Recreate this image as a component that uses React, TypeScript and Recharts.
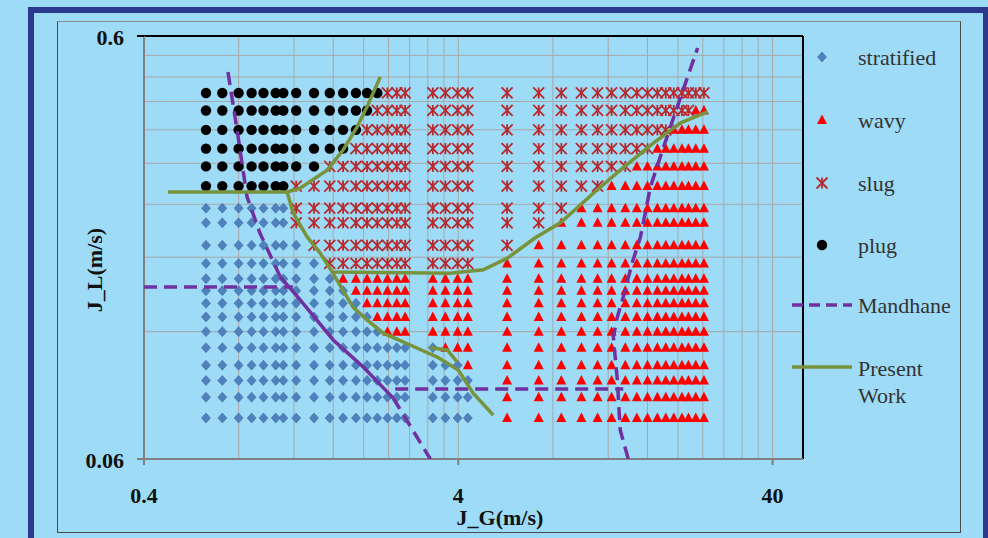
import React from 'react';
import { ScatterChart, Scatter, XAxis, YAxis, CartesianGrid, ReferenceLine } from 'recharts';

// ---------- data ----------
// gas superficial velocity of each measurement column (m/s)
const jgColumns = [
  0.63, 0.71, 0.8, 0.88, 0.96, 1.05, 1.11, 1.22, 1.39, 1.56, 1.72, 1.89, 2.05, 2.21, 2.38, 2.55, 2.71,
  3.32, 3.64, 3.98, 4.29,
  5.72, 7.21, 8.51, 9.86, 11.1, 12.3, 13.6, 14.8, 16.0, 17.2, 18.3, 19.4, 20.6, 21.6, 22.8, 24.2,
];
// liquid superficial velocity of each measurement row (m/s), top to bottom
const jlRows = [0.44, 0.4, 0.36, 0.325, 0.295, 0.265, 0.235, 0.217, 0.192, 0.174, 0.16, 0.15, 0.14, 0.13, 0.12, 0.11, 0.1, 0.092, 0.084, 0.075];
// observed regime along each row, run-length coded across the columns
// p = plug, g = slug, s = stratified, w = wavy
const regimeRuns = [
  'p14 g3 g4 g16',
  'p13 g4 g4 g14 w2',
  'p12 g5 g4 g11 w5',
  'p11 g6 g4 g9 w7',
  'p9 g8 g4 g7 w9',
  'p7 g10 g4 g5 w11',
  's7 g10 g4 g3 w13',
  's7 g10 g4 g2 w14',
  's8 g9 g4 g1 w15',
  's9 g8 g4 w16',
  's10 w7 w4 w16',
  's11 w6 w4 w16',
  's12 w5 w4 w16',
  's13 w4 w4 w16',
  's14 w3 w4 w16',
  's17 s1 w3 w16',
  's17 s3 w1 w16',
  's17 s4 w16',
  's17 s4 w16',
  's17 s4 w16',
];

// Mandhane map boundaries
const mandhaneUpper = [
  { x: 0.74, y: 0.493 }, { x: 0.791, y: 0.36 }, { x: 0.851, y: 0.25 }, { x: 0.936, y: 0.205 }, { x: 1.084, y: 0.162 },
];
const mandhaneMid = [
  { x: 1.084, y: 0.162 }, { x: 1.256, y: 0.1426 }, { x: 1.6, y: 0.1147 }, { x: 1.994, y: 0.099 }, { x: 2.48, y: 0.0837 },
];
const mandhaneLower = [{ x: 2.48, y: 0.0837 }, { x: 3.26, y: 0.06 }];
const mandhaneHoriz1 = [{ x: 0.4, y: 0.153 }, { x: 1.19, y: 0.153 }];
const mandhaneHoriz2 = [{ x: 2.52, y: 0.0878 }, { x: 13.4, y: 0.0878 }];
const mandhaneRight = [
  { x: 13.9, y: 0.06 }, { x: 13.1, y: 0.0703 }, { x: 12.83, y: 0.0922 }, { x: 12.46, y: 0.1166 },
  { x: 12.83, y: 0.13 }, { x: 13.4, y: 0.145 }, { x: 14.3, y: 0.1744 }, { x: 15.2, y: 0.201 },
  { x: 16.35, y: 0.264 }, { x: 18.0, y: 0.328 }, { x: 19.9, y: 0.408 }, { x: 23.1, y: 0.562 },
];

// Present work boundaries
const presentPlug = [
  { x: 0.477, y: 0.2566 }, { x: 1.142, y: 0.2566 }, { x: 1.256, y: 0.262 }, { x: 1.53, y: 0.289 },
  { x: 1.72, y: 0.3226 }, { x: 1.907, y: 0.366 }, { x: 2.05, y: 0.408 }, { x: 2.258, y: 0.48 },
];
const presentSlug = [
  { x: 1.142, y: 0.2566 }, { x: 1.193, y: 0.229 }, { x: 1.322, y: 0.201 }, { x: 1.454, y: 0.184 },
  { x: 1.588, y: 0.166 }, { x: 3.77, y: 0.165 }, { x: 4.8, y: 0.168 }, { x: 5.73, y: 0.179 },
  { x: 7.03, y: 0.2 }, { x: 8.45, y: 0.217 }, { x: 10.76, y: 0.255 }, { x: 13.1, y: 0.289 },
  { x: 16.7, y: 0.335 }, { x: 20.4, y: 0.374 }, { x: 24.8, y: 0.397 },
];
const presentWavy = [
  { x: 1.588, y: 0.166 }, { x: 1.852, y: 0.137 }, { x: 2.05, y: 0.128 }, { x: 2.31, y: 0.119 },
  { x: 2.81, y: 0.1116 }, { x: 3.43, y: 0.1045 }, { x: 4.0, y: 0.0974 }, { x: 4.46, y: 0.0859 }, { x: 5.17, y: 0.0762 },
];
const presentExtra = [{ x: 3.26, y: 0.11 }, { x: 3.69, y: 0.1086 }, { x: 3.97, y: 0.1017 }];

// axis ticks (Excel log-axis minor gridlines) and labels
const xTicks = [0.4, 0.8, 1.2, 1.6, 2, 2.4, 2.8, 3.2, 3.6, 4, 8, 12, 16, 20, 24, 28, 32, 36, 40];
const yTicks = [0.06, 0.12, 0.18, 0.24, 0.3, 0.36, 0.42, 0.48, 0.54, 0.6];
const xLabels = [0.4, 4, 40];
const yLabels = [0.06, 0.6];
const xDomain = [0.4, 50];
const yDomain = [0.06, 0.6];

// ---------- build series ----------
type Pt = { x: number; y: number };
const series: Record<string, Pt[]> = { s: [], w: [], g: [], p: [] };
regimeRuns.forEach((runs, ri) => {
  let ci = 0;
  runs.split(' ').forEach((tok) => {
    const kind = tok[0];
    const n = parseInt(tok.slice(1), 10);
    for (let k = 0; k < n; k++) {
      if (ci < jgColumns.length) series[kind].push({ x: jgColumns[ci], y: jlRows[ri] });
      ci++;
    }
  });
});

// ---------- styles ----------
const BG = '#9EDBF6';
const FRAME = '#2B3A8F';
const NUM_FONT = '"Liberation Serif", "Times New Roman", serif';
const MAND = '#7030A0';
const GREEN = '#77933C';
const SLUG = '#B8282C';

const Diamond = (p: any) => {
  const { cx, cy } = p;
  if (cx == null || cy == null) return <g />;
  return <polygon points={`${cx},${cy - 5} ${cx + 4.5},${cy} ${cx},${cy + 5} ${cx - 4.5},${cy}`} fill="#4F81BD" stroke="#3F6FA8" strokeWidth={0.6} />;
};
const Triangle = (p: any) => {
  const { cx, cy } = p;
  if (cx == null || cy == null) return <g />;
  return <polygon points={`${cx},${cy - 5.5} ${cx + 5},${cy + 4} ${cx - 5},${cy + 4}`} fill="#FF0000" />;
};
const Star = (p: any) => {
  const { cx, cy } = p;
  if (cx == null || cy == null) return <g />;
  const r = 5.5;
  return (
    <g stroke={SLUG} strokeWidth={1.8}>
      <line x1={cx - r} y1={cy - r} x2={cx + r} y2={cy + r} />
      <line x1={cx - r} y1={cy + r} x2={cx + r} y2={cy - r} />
      <line x1={cx} y1={cy - r} x2={cx} y2={cy + r} />
    </g>
  );
};
const Dot = (p: any) => {
  const { cx, cy } = p;
  if (cx == null || cy == null) return <g />;
  return <circle cx={cx} cy={cy} r={5.2} fill="#000" />;
};
const NoShape = () => <g />;

const fmt = (v: number) => String(v);

const XTick = (p: any) => {
  const { x, y, payload } = p;
  if (!xLabels.some((v) => Math.abs(v - payload.value) < 1e-9)) return <g />;
  return (
    <g>
      <line x1={x} y1={y} x2={x} y2={y + 6} stroke="#808080" strokeWidth={2} />
      <text x={x} y={y + 36} textAnchor="middle" dominantBaseline="central" fontFamily={NUM_FONT} fontWeight="bold" fontSize={22} fill="#111">
        {fmt(payload.value)}
      </text>
    </g>
  );
};
const YTick = (p: any) => {
  const { x, y, payload } = p;
  if (!yLabels.some((v) => Math.abs(v - payload.value) < 1e-9)) return <g />;
  return (
    <g>
      <line x1={x - 7} y1={y} x2={x} y2={y} stroke={payload.value === 0.6 ? '#000' : '#808080'} strokeWidth={2} />
      <text x={x - 20} y={y + 1} textAnchor="end" dominantBaseline="central" fontFamily={NUM_FONT} fontWeight="bold" fontSize={22} fill="#111">
        {fmt(payload.value)}
      </text>
    </g>
  );
};

const lineSeries = [
  { data: mandhaneUpper, stroke: MAND, dash: '13 7' },
  { data: mandhaneMid, stroke: MAND, dash: undefined },
  { data: mandhaneLower, stroke: MAND, dash: '13 7' },
  { data: mandhaneHoriz1, stroke: MAND, dash: '13 7' },
  { data: mandhaneHoriz2, stroke: MAND, dash: '13 7' },
  { data: mandhaneRight, stroke: MAND, dash: '13 7' },
  { data: presentPlug, stroke: GREEN, dash: undefined },
  { data: presentSlug, stroke: GREEN, dash: undefined },
  { data: presentWavy, stroke: GREEN, dash: undefined },
  { data: presentExtra, stroke: GREEN, dash: undefined },
];

const legendItems = [
  { label: 'stratified', y: 57, kind: 's' },
  { label: 'wavy', y: 120, kind: 'w' },
  { label: 'slug', y: 183, kind: 'g' },
  { label: 'plug', y: 245, kind: 'p' },
];

export default function App() {
  return (
    <div style={{ position: 'absolute', left: 0, top: 0, width: 988, height: 538, overflow: 'hidden', background: BG }}>
      <div style={{ position: 'absolute', left: 28, top: 7, width: 961, height: 620, border: `6px solid ${FRAME}`, boxSizing: 'border-box' }} />
      <div style={{ position: 'absolute', left: 57, top: 21, width: 904, height: 512, border: '1px solid #4a4a4a', borderTopColor: '#8c8c8c', boxSizing: 'border-box' }} />
      <div style={{ position: 'absolute', left: 0, top: 0 }}>
        <ScatterChart width={988} height={538} margin={{ top: 36, right: 185, left: 84, bottom: 49 }}>
          <CartesianGrid stroke="#A8A8A8" strokeWidth={1} />
          <XAxis
            dataKey="x"
            type="number"
            scale="log"
            domain={xDomain}
            allowDataOverflow
            ticks={xTicks}
            interval={0}
            tick={XTick}
            tickLine={false}
            tickSize={0}
            tickMargin={0}
            height={30}
            axisLine={{ stroke: '#808080', strokeWidth: 2 }}
          />
          <YAxis
            dataKey="y"
            type="number"
            scale="log"
            domain={yDomain}
            allowDataOverflow
            ticks={yTicks}
            interval={0}
            tick={YTick}
            tickLine={false}
            tickSize={0}
            tickMargin={0}
            width={60}
            axisLine={{ stroke: '#808080', strokeWidth: 2 }}
          />
          <ReferenceLine y={0.6} stroke="#000" strokeWidth={2} />
          <ReferenceLine x={50} stroke="#000" strokeWidth={2} />
          <Scatter name="stratified" data={series.s} shape={Diamond} isAnimationActive={false} />
          <Scatter name="wavy" data={series.w} shape={Triangle} isAnimationActive={false} />
          <Scatter name="slug" data={series.g} shape={Star} isAnimationActive={false} />
          <Scatter name="plug" data={series.p} shape={Dot} isAnimationActive={false} />
          {lineSeries.map((l, i) => (
            <Scatter
              key={i}
              data={l.data}
              shape={NoShape}
              line={{ stroke: l.stroke, strokeWidth: 3.5, strokeDasharray: l.dash }}
              lineType="joint"
              isAnimationActive={false}
            />
          ))}
        </ScatterChart>
      </div>
      <svg width={988} height={538} style={{ position: 'absolute', left: 0, top: 0, pointerEvents: 'none' }}>
        <text x={500} y={517} textAnchor="middle" dominantBaseline="central" fontFamily={NUM_FONT} fontWeight="bold" fontSize={22} fill="#111">
          J_G(m/s)
        </text>
        <text x={94} y={270} transform="rotate(-90 94 270)" textAnchor="middle" dominantBaseline="central" fontFamily={NUM_FONT} fontWeight="bold" fontSize={22} fill="#111">
          J_L(m/s)
        </text>
        {legendItems.map((it) => (
          <g key={it.label}>
            {it.kind === 's' && <Diamond cx={822} cy={it.y} />}
            {it.kind === 'w' && <Triangle cx={822} cy={it.y} />}
            {it.kind === 'g' && <Star cx={822} cy={it.y} />}
            {it.kind === 'p' && <Dot cx={822} cy={it.y} />}
            <text x={858} y={it.y} dominantBaseline="central" fontFamily={NUM_FONT} fontSize={22} fill="#333">
              {it.label}
            </text>
          </g>
        ))}
        <line x1={792} y1={305} x2={852} y2={305} stroke={MAND} strokeWidth={3.5} strokeDasharray="11 6" />
        <text x={858} y={305} dominantBaseline="central" fontFamily={NUM_FONT} fontSize={22} fill="#333">Mandhane</text>
        <line x1={792} y1={367} x2={852} y2={367} stroke={GREEN} strokeWidth={3.5} />
        <text x={858} y={368} dominantBaseline="central" fontFamily={NUM_FONT} fontSize={22} fill="#333">Present</text>
        <text x={858} y={395} dominantBaseline="central" fontFamily={NUM_FONT} fontSize={22} fill="#333">Work</text>
      </svg>
    </div>
  );
}
